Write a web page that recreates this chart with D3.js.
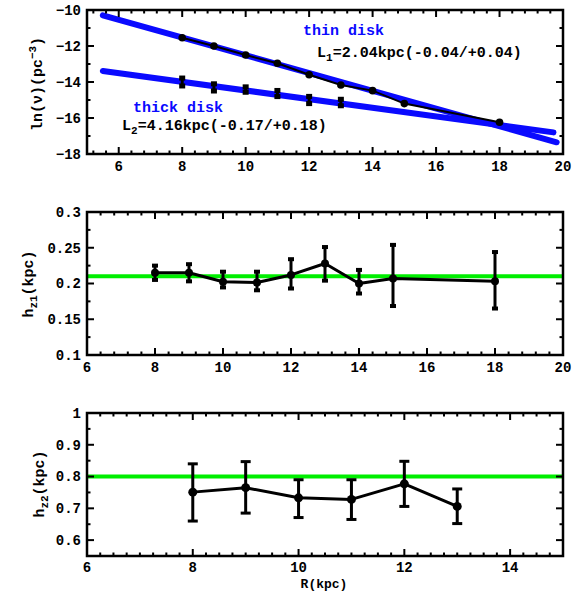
<!DOCTYPE html>
<html>
<head>
<title>disk scale</title>
<style>
  body{ margin:0; background:#fff; }
  svg text{ font-family:"Liberation Mono","Courier New",Courier,"DejaVu Sans Mono",monospace; font-weight:bold; }
</style>
<script src="https://d3js.org/d3.v7.min.js"></script>
</head>
<body>
<svg width=579 height=592></svg>
<script>
// top panel: ln(nu) vs R
var thinR = [8, 9, 10, 11, 12, 13, 14, 15, 18];
var thinLn = [-11.54, -12.0, -12.5, -12.96, -13.6, -14.17, -14.48, -15.2, -16.24];
var thickR = [8, 9, 10, 11, 12, 13];
var thickLn = [-14.0, -14.3, -14.42, -14.64, -15.0, -15.14];
var thickErr = [0.22, 0.2, 0.15, 0.17, 0.2, 0.18];
var fitThinR = [5.5, 19.8], fitThinLn = [-10.3, -17.35];
var fitThickR = [5.5, 19.7], fitThickLn = [-13.39, -16.8];

// middle panel: hz1
var hz1R = [8, 9, 10, 11, 12, 13, 14, 15, 18];
var hz1 = [0.215, 0.215, 0.2025, 0.2015, 0.212, 0.228, 0.200, 0.207, 0.203];
var hz1Lo = [0.010, 0.012, 0.008, 0.011, 0.019, 0.024, 0.014, 0.0385, 0.038];
var hz1Hi = [0.010, 0.012, 0.014, 0.015, 0.022, 0.023, 0.019, 0.047, 0.041];
var hz1Mean = 0.21;

// bottom panel: hz2
var hz2R = [8, 9, 10, 11, 12, 13];
var hz2 = [0.751, 0.765, 0.733, 0.728, 0.777, 0.706];
var hz2Lo = [0.091, 0.080, 0.062, 0.063, 0.071, 0.054];
var hz2Hi = [0.089, 0.082, 0.057, 0.062, 0.071, 0.055];
var hz2Mean = 0.8;

var svg = d3.select("svg");
var left = 87, right = 563;
var FONT = "'Liberation Mono','Courier New',monospace";

// draws box with inward ticks on all four sides
function frame(g, x, y, xt, xm, yt, ym, xlab, ylabFmt, labOff) {
  var x0 = x.range()[0], x1 = x.range()[1], y0 = y.range()[0], y1 = y.range()[1];
  xm.forEach(function(v) {
    var len = xt.indexOf(v) >= 0 ? 7 : 3.5;
    g.append("line").attr("x1", x(v)).attr("x2", x(v)).attr("y1", y0).attr("y2", y0 - len).attr("stroke", "#000").attr("stroke-width", 2);
    g.append("line").attr("x1", x(v)).attr("x2", x(v)).attr("y1", y1).attr("y2", y1 + len).attr("stroke", "#000").attr("stroke-width", 2);
  });
  ym.forEach(function(v) {
    var len = yt.indexOf(v) >= 0 ? 7 : 3.5;
    g.append("line").attr("y1", y(v)).attr("y2", y(v)).attr("x1", x0).attr("x2", x0 + len).attr("stroke", "#000").attr("stroke-width", 2);
    g.append("line").attr("y1", y(v)).attr("y2", y(v)).attr("x1", x1).attr("x2", x1 - len).attr("stroke", "#000").attr("stroke-width", 2);
  });
  g.append("rect").attr("x", x0).attr("y", y1).attr("width", x1 - x0).attr("height", y0 - y1)
    .attr("fill", "none").attr("stroke", "#000").attr("stroke-width", 2.5);
  xlab.forEach(function(v) {
    g.append("text").attr("x", x(v)).attr("y", y0 + labOff).attr("text-anchor", "middle").attr("font-size", 14)
      .attr("font-family", FONT).attr("font-weight", "bold").text(v);
  });
  yt.forEach(function(v) {
    g.append("text").attr("x", x0 - 6).attr("y", y(v)).attr("dy", "0.35em").attr("text-anchor", "end").attr("font-size", 14)
      .attr("font-family", FONT).attr("font-weight", "bold").text(ylabFmt(v));
  });
}

function rangeStep(a, b, s) {
  var out = [];
  for (var i = 0; a + i * s <= b + 1e-9; i++) out.push(+(a + i * s).toFixed(4));
  return out;
}

function label(g, x, y, size, fill) {
  return g.append("text").attr("x", x).attr("y", y).attr("font-size", size).attr("fill", fill)
    .attr("font-family", FONT).attr("font-weight", "bold");
}

// ---------- panel 1
var g1 = svg.append("g");
var x1 = d3.scaleLinear().domain([5, 20]).range([left, right]);
var y1 = d3.scaleLinear().domain([-18, -10]).range([154, 10]);

var blueLine = d3.line().x(function(d) { return x1(d[0]); }).y(function(d) { return y1(d[1]); });
g1.append("path").attr("d", blueLine(d3.zip(fitThinR, fitThinLn))).attr("stroke", "#0a0aff").attr("stroke-width", 6).attr("fill", "none").attr("stroke-linecap", "round");
g1.append("path").attr("d", blueLine(d3.zip(fitThickR, fitThickLn))).attr("stroke", "#0a0aff").attr("stroke-width", 6).attr("fill", "none").attr("stroke-linecap", "round");

g1.append("path").attr("d", blueLine(d3.zip(thinR, thinLn))).attr("stroke", "#000").attr("stroke-width", 2).attr("fill", "none");
g1.selectAll(".thin").data(thinR).enter().append("circle")
  .attr("cx", function(d) { return x1(d); })
  .attr("cy", function(d, i) { return y1(thinLn[i]); })
  .attr("r", 3.8).attr("fill", "#000");

thickR.forEach(function(r, i) {
  var top = y1(thickLn[i] + thickErr[i]), bot = y1(thickLn[i] - thickErr[i]);
  g1.append("line").attr("x1", x1(r)).attr("x2", x1(r)).attr("y1", top).attr("y2", bot).attr("stroke", "#000").attr("stroke-width", 3);
  g1.append("rect").attr("x", x1(r) - 3).attr("y", top - 2.5).attr("width", 6).attr("height", 5).attr("fill", "#000");
  g1.append("rect").attr("x", x1(r) - 3).attr("y", bot - 2.5).attr("width", 6).attr("height", 5).attr("fill", "#000");
});

frame(g1, x1, y1, rangeStep(6, 20, 2), rangeStep(5.2, 20, 0.4), rangeStep(-18, -10, 2), rangeStep(-18, -10, 1),
  [6, 8, 10, 12, 14, 16, 18, 20], function(v) { return "\u2212" + Math.abs(v); }, 17);

label(g1, 303, 35, 15, "#0a0aff").text("thin disk");
var t1 = label(g1, 317, 57, 15, "#000");
t1.append("tspan").text("L");
t1.append("tspan").attr("font-size", 11).attr("dy", 4).text("1");
t1.append("tspan").attr("dy", -4).text("=2.04kpc(-0.04/+0.04)");
label(g1, 133, 112, 15, "#0a0aff").text("thick disk");
var t2 = label(g1, 122, 130, 15, "#000");
t2.append("tspan").text("L");
t2.append("tspan").attr("font-size", 11).attr("dy", 4).text("2");
t2.append("tspan").attr("dy", -4).text("=4.16kpc(-0.17/+0.18)");

var yl1 = label(g1, 0, 0, 15, "#000").attr("transform", "translate(42,84) rotate(-90)").attr("text-anchor", "middle");
yl1.append("tspan").text("ln(\u03bd)(pc");
yl1.append("tspan").attr("font-size", 11).attr("dy", -6).text("\u22123");
yl1.append("tspan").attr("dy", 6).text(")");

// ---------- error bar panel helper
function errPanel(R, v, lo, hi, mean, x, y, capW, capH, mk) {
  var g = svg.append("g");
  g.append("line").attr("x1", x.range()[0]).attr("x2", x.range()[1]).attr("y1", y(mean)).attr("y2", y(mean))
    .attr("stroke", "#00ee00").attr("stroke-width", 4);
  var ln = d3.line().x(function(d) { return x(d[0]); }).y(function(d) { return y(d[1]); });
  g.append("path").attr("d", ln(d3.zip(R, v))).attr("stroke", "#000").attr("stroke-width", 3).attr("fill", "none").attr("stroke-linejoin", "round");
  R.forEach(function(r, i) {
    var top = y(v[i] + hi[i]), bot = y(v[i] - lo[i]);
    g.append("line").attr("x1", x(r)).attr("x2", x(r)).attr("y1", top).attr("y2", bot).attr("stroke", "#000").attr("stroke-width", 3);
    g.append("rect").attr("x", x(r) - capW / 2).attr("y", top - capH / 2).attr("width", capW).attr("height", capH).attr("fill", "#000");
    g.append("rect").attr("x", x(r) - capW / 2).attr("y", bot - capH / 2).attr("width", capW).attr("height", capH).attr("fill", "#000");
    g.append("circle").attr("cx", x(r)).attr("cy", y(v[i])).attr("r", mk).attr("fill", "#000");
  });
  return g;
}

// ---------- panel 2
var x2 = d3.scaleLinear().domain([6, 20]).range([left, right]);
var y2 = d3.scaleLinear().domain([0.1, 0.3]).range([355, 212]);
var g2 = errPanel(hz1R, hz1, hz1Lo, hz1Hi, hz1Mean, x2, y2, 6, 4, 4);
frame(g2, x2, y2, rangeStep(6, 20, 2), rangeStep(6, 20, 0.4), [0.1, 0.15, 0.2, 0.25, 0.3], rangeStep(0.1, 0.3, 0.025),
  [6, 8, 10, 12, 14, 16, 18, 20], function(v) { return String(v); }, 17);
var yl2 = label(g2, 0, 0, 15, "#000").attr("transform", "translate(33,284) rotate(-90)").attr("text-anchor", "middle");
yl2.append("tspan").text("h");
yl2.append("tspan").attr("font-size", 11).attr("dy", 4).text("z1");
yl2.append("tspan").attr("dy", -4).text("(kpc)");

// ---------- panel 3
var x3 = d3.scaleLinear().domain([6, 15]).range([left, right]);
var y3 = d3.scaleLinear().domain([0.55, 1]).range([556, 413]);
var g3 = errPanel(hz2R, hz2, hz2Lo, hz2Hi, hz2Mean, x3, y3, 10, 3, 4.5);
frame(g3, x3, y3, rangeStep(6, 14, 2), rangeStep(6, 15, 0.25), [0.6, 0.7, 0.8, 0.9, 1], rangeStep(0.55, 1, 0.05),
  [6, 8, 10, 12, 14], function(v) { return String(v); }, 16);
var yl3 = label(g3, 0, 0, 15, "#000").attr("transform", "translate(44,484) rotate(-90)").attr("text-anchor", "middle");
yl3.append("tspan").text("h");
yl3.append("tspan").attr("font-size", 11).attr("dy", 4).text("z2");
yl3.append("tspan").attr("dy", -4).text("(kpc)");
label(g3, 324, 587.5, 13, "#000").attr("text-anchor", "middle").text("R(kpc)");
</script>
</body>
</html>
